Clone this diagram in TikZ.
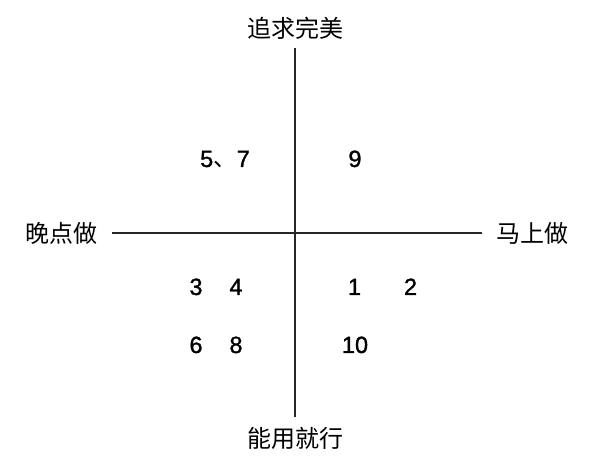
\documentclass[tikz,border=0pt]{standalone}
\usepackage{fontspec}
\setmainfont{Liberation Sans}
\newfontfamily\numfont[FakeBold=1.2]{Liberation Sans}
\newfontfamily\cjk{Noto Sans CJK SC}
\usetikzlibrary{positioning}
\tikzset{
  axislabel/.style={font=\cjk\fontsize{24}{28}\selectfont,inner sep=0pt},
  tasknum/.style={font=\numfont\fontsize{23.5}{28}\selectfont,inner sep=0pt,anchor=base},
  axisline/.style={line width=1.2pt,black!85}
}

\begin{document}
\begin{tikzpicture}[x=1pt,y=-1pt]
  \useasboundingbox (0,0) rectangle (600,470);
  % axis ends
  \coordinate (axT) at (295,48);
  \coordinate (axB) at (295,416.5);
  \coordinate (axL) at (111.5,233);
  \coordinate (axR) at (481.5,233);
  \draw[axisline] (axT) -- (axB);
  \draw[axisline] (axL) -- (axR);
  % axis labels
  \node[axislabel] (perfect) at (295,28)  {追求完美};
  \node[axislabel] (enough)  at (295,438) {能用就行};
  \node[axislabel] (later)   at (61,233)  {晚点做};
  \node[axislabel] (now)     at (532,233) {马上做};
  % task numbers, placed on their baselines
  \foreach \px/\py/\txt/\nm in {225/167/{5{\cjk 、}7}/tA, 355/167/9/tB,
      196/295/3/tC, 236/295/4/tD, 354.5/295/1/tE, 410.5/295/2/tF,
      196/353/6/tG, 236/353/8/tH, 355/353/10/tI}
    \node[tasknum] (\nm) at (\px,\py) {\txt};
\end{tikzpicture}
\end{document}
